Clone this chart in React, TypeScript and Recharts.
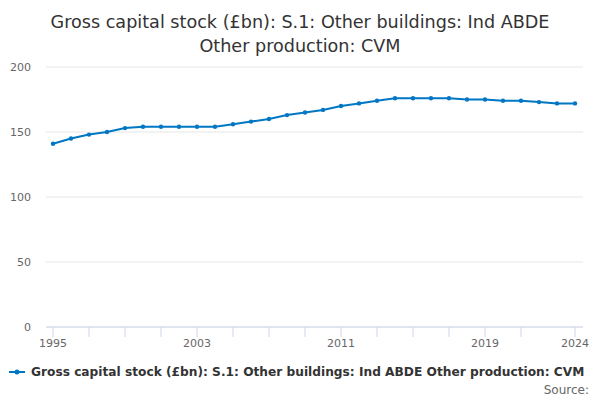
import React from 'react';
import { LineChart, Line, XAxis, YAxis, CartesianGrid, Legend } from 'recharts';

const years = [
  1995, 1996, 1997, 1998, 1999, 2000, 2001, 2002, 2003, 2004,
  2005, 2006, 2007, 2008, 2009, 2010, 2011, 2012, 2013, 2014,
  2015, 2016, 2017, 2018, 2019, 2020, 2021, 2022, 2023, 2024,
];
const capitalStock = [
  141, 145, 148, 150, 153, 154, 154, 154, 154, 154,
  156, 158, 160, 163, 165, 167, 170, 172, 174, 176,
  176, 176, 176, 175, 175, 174, 174, 173, 172, 172,
];
const xTicks = [1995, 1997, 1999, 2001, 2003, 2005, 2007, 2009, 2011, 2013, 2015, 2017, 2019, 2021, 2024];
const xLabels = [1995, 2003, 2011, 2019, 2024];
const yTicks = [0, 50, 100, 150, 200];

const SERIES_NAME = 'Gross capital stock (£bn): S.1: Other buildings: Ind ABDE Other production: CVM';
const TITLE_LINES = ['Gross capital stock (£bn): S.1: Other buildings: Ind ABDE', 'Other production: CVM'];
const LINE_COLOR = '#0077c4';
const FONT = '"DejaVu Sans", sans-serif';

const data = years.map((year, i) => ({ year, value: capitalStock[i] }));

const renderLegend = (props: any) => {
  const name = props.payload && props.payload[0] ? props.payload[0].value : SERIES_NAME;
  return (
    <div style={{ position: 'relative', width: 600, height: 38, fontFamily: FONT }}>
      <div style={{ position: 'absolute', left: 9, top: 3, display: 'flex', alignItems: 'center', whiteSpace: 'nowrap' }}>
        <svg width={16} height={10}>
          <line x1={0} y1={5} x2={16} y2={5} stroke={LINE_COLOR} strokeWidth={2} />
          <circle cx={8} cy={5} r={2.5} fill={LINE_COLOR} />
        </svg>
        <span style={{ marginLeft: 6, fontSize: 12.2, fontWeight: 'bold', color: '#333' }}>{name}</span>
      </div>
      <div style={{ position: 'absolute', right: 11, top: 21, fontSize: 12, color: '#666' }}>Source:</div>
    </div>
  );
};

const App: React.FC = () => {
  return (
    <div style={{ position: 'absolute', left: 0, top: 0, width: 600, height: 400, background: '#fff', fontFamily: FONT }}>
      <div
        style={{
          position: 'absolute',
          top: 10,
          left: 0,
          width: 600,
          textAlign: 'center',
          fontSize: 17.6,
          lineHeight: '24px',
          color: '#333',
        }}
      >
        {TITLE_LINES.map((t) => (
          <div key={t}>{t}</div>
        ))}
      </div>
      <LineChart
        width={600}
        height={400}
        data={data}
        margin={{ top: 67, right: 17, bottom: 43, left: 6 }}
        style={{ position: 'absolute', left: 0, top: 0 }}
      >
        <CartesianGrid horizontal vertical={false} stroke="#e6e6e6" />
        <XAxis
          dataKey="year"
          type="number"
          domain={[1995, 2024]}
          ticks={xTicks}
          interval={0}
          padding={{ left: 7, right: 8 }}
          height={30}
          tickSize={10}
          tickMargin={2}
          axisLine={{ stroke: '#ccd6eb' }}
          tickLine={{ stroke: '#ccd6eb' }}
          tick={{ fontSize: 11, fill: '#666' }}
          tickFormatter={(v: number) => (xLabels.includes(v) ? String(v) : '')}
        />
        <YAxis
          domain={[0, 200]}
          ticks={yTicks}
          width={40}
          axisLine={false}
          tickLine={false}
          tickSize={0}
          tickMargin={15}
          tick={{ fontSize: 11, fill: '#666' }}
        />
        <Legend
          layout="horizontal"
          verticalAlign="middle"
          align="center"
          content={renderLegend}
          wrapperStyle={{ left: 0, top: 362, width: 600 }}
        />
        <Line
          type="linear"
          dataKey="value"
          name={SERIES_NAME}
          stroke={LINE_COLOR}
          strokeWidth={2}
          dot={{ r: 2.2, fill: LINE_COLOR, stroke: LINE_COLOR, strokeWidth: 0 }}
          activeDot={false}
          isAnimationActive={false}
        />
      </LineChart>
    </div>
  );
};

export default App;
